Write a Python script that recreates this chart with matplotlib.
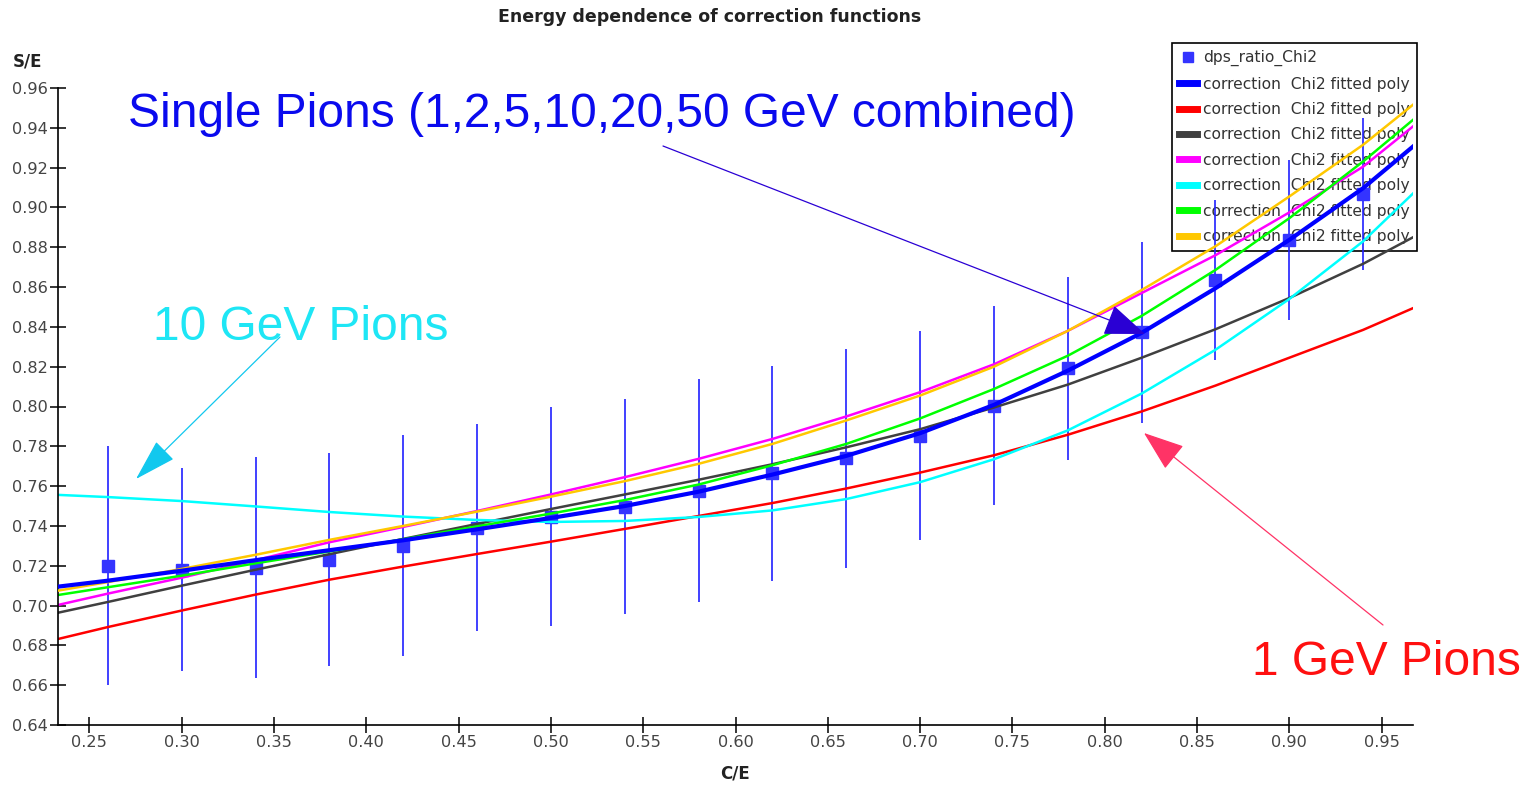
import matplotlib
matplotlib.use("Agg")
import matplotlib.pyplot as plt
from matplotlib.lines import Line2D
from matplotlib.patches import FancyArrowPatch, ArrowStyle

W, H = 1532, 785

# fitted correction polynomials
x_curve = [0.233, 0.26, 0.30, 0.34, 0.38, 0.42, 0.46, 0.50, 0.54, 0.58,
           0.62, 0.66, 0.70, 0.74, 0.78, 0.82, 0.86, 0.90, 0.94, 0.967]
poly_combined = [0.7095, 0.7125, 0.7175, 0.7228, 0.7278, 0.7328, 0.7383, 0.7440, 0.7500, 0.7572,
                 0.7658, 0.7752, 0.7866, 0.8008, 0.8180, 0.8370, 0.8594, 0.8837, 0.9097, 0.9306]
poly_1gev = [0.6832, 0.6892, 0.6975, 0.7055, 0.7130, 0.7196, 0.7259, 0.7321, 0.7385, 0.7450,
             0.7515, 0.7588, 0.7668, 0.7755, 0.7858, 0.7975, 0.8105, 0.8245, 0.8385, 0.8494]
poly_2gev = [0.6964, 0.7018, 0.7100, 0.7180, 0.7258, 0.7335, 0.7410, 0.7485, 0.7558, 0.7632,
             0.7710, 0.7795, 0.7886, 0.7995, 0.8110, 0.8245, 0.8388, 0.8545, 0.8717, 0.8850]
poly_5gev = [0.7003, 0.7060, 0.7140, 0.7228, 0.7318, 0.7395, 0.7475, 0.7558, 0.7645, 0.7737,
             0.7837, 0.7950, 0.8072, 0.8212, 0.8380, 0.8570, 0.8760, 0.8975, 0.9205, 0.9407]
poly_10gev = [0.7556, 0.7545, 0.7525, 0.7498, 0.7470, 0.7447, 0.7430, 0.7420, 0.7425, 0.7445,
              0.7478, 0.7535, 0.7620, 0.7735, 0.7880, 0.8065, 0.8285, 0.8540, 0.8830, 0.9070]
poly_20gev = [0.7053, 0.7092, 0.7150, 0.7212, 0.7272, 0.7333, 0.7398, 0.7462, 0.7530, 0.7608,
              0.7705, 0.7812, 0.7940, 0.8088, 0.8255, 0.8455, 0.8686, 0.8946, 0.9231, 0.9440]
poly_50gev = [0.7075, 0.7118, 0.7184, 0.7255, 0.7330, 0.7400, 0.7472, 0.7547, 0.7625, 0.7712,
              0.7812, 0.7930, 0.8055, 0.8200, 0.8380, 0.8585, 0.8805, 0.9055, 0.9315, 0.9516]

# dps_ratio_Chi2 points with errors
x_data = [0.26, 0.30, 0.34, 0.38, 0.42, 0.46, 0.50, 0.54, 0.58, 0.62,
          0.66, 0.70, 0.74, 0.78, 0.82, 0.86, 0.90, 0.94]
ratio = [0.720, 0.718, 0.719, 0.723, 0.730, 0.739, 0.7445, 0.7497, 0.7578, 0.7665,
         0.774, 0.7854, 0.8003, 0.8192, 0.8373, 0.8636, 0.8837, 0.9068]
ratio_err = [0.060, 0.051, 0.0555, 0.0535, 0.0555, 0.052, 0.055, 0.054, 0.056, 0.054,
             0.055, 0.0525, 0.050, 0.046, 0.0455, 0.040, 0.040, 0.038]

series = [
    (poly_combined, "#0000ff", 3.0),
    (poly_1gev, "#ff0000", 1.8),
    (poly_2gev, "#404040", 1.8),
    (poly_5gev, "#ff00ff", 1.8),
    (poly_10gev, "#00ffff", 1.8),
    (poly_20gev, "#00ff00", 1.8),
    (poly_50gev, "#ffc800", 1.8),
]
fit_label = "correction  Chi2 fitted poly"


def fxy(px, py):
    return px / W, 1 - py / H


fig = plt.figure(figsize=(W / 100, H / 100), dpi=100)
ax = fig.add_axes([58 / W, 1 - 725 / H, (1413 - 58) / W, (725 - 88) / H])

ax.errorbar(x_data, ratio, yerr=ratio_err, fmt="s", color="#3434ff", ecolor="#2020ff",
            elinewidth=1.2, markersize=8, capsize=0, zorder=1.5)

order = [1, 2, 3, 4, 5, 6, 0]
for i in order:
    ys, c, lw = series[i]
    ax.plot(x_curve, ys, color=c, linewidth=lw, zorder=2 + i / 10 if i else 3)

ax.set_xlim(0.233, 0.967)
ax.set_ylim(0.64, 0.96)
ax.set_xticks([0.25 + 0.05 * k for k in range(15)])
ax.set_xticklabels([f"{0.25 + 0.05 * k:.2f}" for k in range(15)])
ax.set_yticks([0.64 + 0.02 * k for k in range(17)])
ax.set_yticklabels([f"{0.64 + 0.02 * k:.2f}" for k in range(17)])
ax.tick_params(direction="inout", length=11, width=1.1, labelsize=11.6, labelcolor="#444444", pad=2)
for s in ("top", "right"):
    ax.spines[s].set_visible(False)
for s in ("left", "bottom"):
    ax.spines[s].set_linewidth(1.2)

handles = [Line2D([], [], marker="s", linestyle="none", color="#3434ff", markersize=7)]
handles += [Line2D([], [], color=c, linewidth=5) for _, c, _ in series]
labels = ["dps_ratio_Chi2"] + [fit_label] * len(series)
leg = ax.legend(handles, labels, loc="upper right", bbox_to_anchor=fxy(1417, 43),
                bbox_transform=fig.transFigure, fontsize=11.2, frameon=True, fancybox=False,
                edgecolor="black", framealpha=1, borderpad=0.45, labelspacing=0.67,
                handlelength=1.15, handletextpad=0.4, borderaxespad=0)
leg.get_frame().set_linewidth(1.2)
for t in leg.get_texts():
    t.set_color("#333333")
leg.set_zorder(1)

fig.text(*fxy(710, 17), "Energy dependence of correction functions", ha="center", va="center",
         fontsize=12.5, fontweight="bold", color="#222222")
fig.text(*fxy(28, 62), "S/E", ha="center", va="center", fontsize=12, fontweight="bold", color="#222222")
fig.text(*fxy(735, 773), "C/E", ha="center", va="center", fontsize=12, fontweight="bold", color="#222222")

ann_font = "Liberation Sans"
fig.text(*fxy(128, 127), "Single Pions (1,2,5,10,20,50 GeV combined)", ha="left", va="baseline",
         fontsize=34.5, color="#0a0aee", family=ann_font)
fig.text(*fxy(153, 340), "10 GeV Pions", ha="left", va="baseline",
         fontsize=34.5, color="#1ee6f5", family=ann_font)
fig.text(*fxy(1252, 675), "1 GeV Pions", ha="left", va="baseline",
         fontsize=34.5, color="#ff1010", family=ann_font)

arrows = [
    ((663, 146), (1145, 334), "#2a00d4", 26, 10),
    ((280, 337), (136, 479), "#12c8ee", 27, 8),
    ((1383, 625), (1144, 433), "#ff3366", 26, 9.5),
]
for (a, b, c, hl, hw) in arrows:
    fig.add_artist(FancyArrowPatch(fxy(*a), fxy(*b), transform=fig.transFigure,
                                   arrowstyle=ArrowStyle("-|>", head_length=hl, head_width=hw),
                                   mutation_scale=1, color=c, linewidth=0.9,
                                   shrinkA=0, shrinkB=0))

fig.savefig("out.png", dpi=100, facecolor="white")
